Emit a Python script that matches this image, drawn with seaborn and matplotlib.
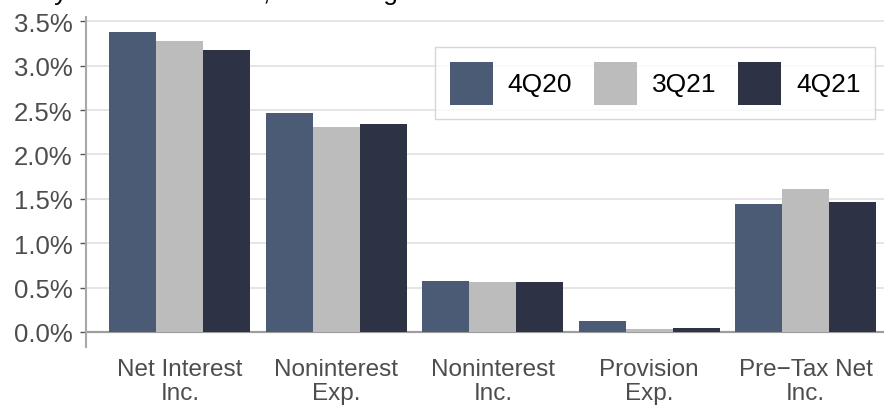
import matplotlib
matplotlib.use("Agg")
import matplotlib.pyplot as plt
import seaborn as sns
import pandas as pd
from matplotlib.ticker import FuncFormatter, MultipleLocator

# Income statement items as a percentage of assets, by quarter
categories = ["Net Interest\nInc.", "Noninterest\nExp.", "Noninterest\nInc.",
              "Provision\nExp.", "Pre\u2212Tax Net\nInc."]
periods = ["4Q20", "3Q21", "4Q21"]
q4_20 = [3.38, 2.47, 0.57, 0.12, 1.44]
q3_21 = [3.28, 2.31, 0.56, 0.03, 1.61]
q4_21 = [3.18, 2.34, 0.56, 0.04, 1.46]
palette = ["#4B5B75", "#BBBCBB", "#2D3245"]
title_text = "Key Financial Ratios, Percentage of Total Assets"

rows = []
for period, vals in zip(periods, [q4_20, q3_21, q4_21]):
    for cat, v in zip(categories, vals):
        rows.append({"item": cat, "period": period, "value": v})
df = pd.DataFrame(rows)

sns.set_theme(style="white")
plt.rcParams["font.family"] = ["Liberation Sans", "DejaVu Sans"]

W, H = 884, 406
fig = plt.figure(figsize=(W / 100, H / 100), dpi=100)
ax = fig.add_axes([86 / W, 1 - 348 / H, 1 - 86 / W, (348 - 18) / H])

sns.barplot(data=df, x="item", y="value", hue="period", order=categories,
            hue_order=periods, palette=palette, width=0.9, saturation=1,
            edgecolor="none", linewidth=0, ax=ax, zorder=3)

ax.set_xlim(-0.6, 4.5)
ax.set_ylim(-0.17, 3.55)
ax.yaxis.set_major_locator(MultipleLocator(0.5))
ax.yaxis.set_major_formatter(FuncFormatter(lambda v, p: f"{v:.1f}%"))
ax.set_xlabel("")
ax.set_ylabel("")

ax.grid(False)
ax.yaxis.grid(True, color="#DEDEDE", linewidth=1.1, zorder=0)
ax.set_axisbelow(True)
ax.axhline(0, color="#9E9E9E", linewidth=1.6, zorder=2)

for s in ["top", "right", "bottom"]:
    ax.spines[s].set_visible(False)
ax.spines["left"].set_color("#A8A8A8")
ax.spines["left"].set_linewidth(1.5)

ax.tick_params(axis="y", length=4.5, width=1, color="#555555", pad=5,
               labelsize=18.5, labelcolor="#4D4D4D", left=True)
ax.tick_params(axis="x", length=0, pad=8, labelsize=17.5, labelcolor="#4D4D4D")
for lab in ax.get_xticklabels():
    lab.set_linespacing(1.12)

leg = ax.legend(loc="upper right", bbox_to_anchor=(875 / W, 1 - 48 / H),
                bbox_transform=fig.transFigure, borderaxespad=0, ncol=3,
                frameon=True, fontsize=19, handlelength=1.63, handleheight=2.13,
                handletextpad=0.55, columnspacing=0.85, borderpad=0.55,
                fancybox=False, title=None)
leg.get_frame().set_edgecolor("#CCCCCC")
leg.get_frame().set_linewidth(1.0)
for t in leg.get_texts():
    t.set_color("#000000")

fig.text(22 / W, 1.0, title_text, fontsize=19, color="#000000",
         ha="left", va="baseline")

fig.savefig("out.png", dpi=100)
